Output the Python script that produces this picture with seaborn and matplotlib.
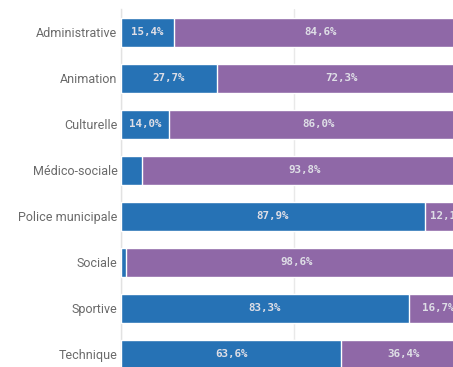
import matplotlib
matplotlib.use("Agg")
import matplotlib.pyplot as plt
import seaborn as sns
import pandas as pd

categories = ["Administrative", "Animation", "Culturelle", "Médico-sociale",
              "Police municipale", "Sociale", "Sportive", "Technique"]
part_a = [15.4, 27.7, 14.0, 6.2, 87.9, 1.4, 83.3, 63.6]
part_b = [84.6, 72.3, 86.0, 93.8, 12.1, 98.6, 16.7, 36.4]

BLUE = "#2672b5"
PURPLE = "#8f68a7"

sns.set_style("white")
plt.rcParams["font.family"] = ["Roboto", "DejaVu Sans"]

df = pd.DataFrame({
    "categorie": categories,
    "a": part_a,
    "b": part_b,
})
df["total"] = df["a"] + df["b"]

fig = plt.figure(figsize=(4.53, 3.67), dpi=100)
ax = fig.add_axes([121 / 453, -10 / 367, 346 / 453, 367.5 / 367])

# stacked bars: full length first, first segment drawn on top
sns.barplot(data=df, x="total", y="categorie", orient="h", color=PURPLE,
            saturation=1, width=0.63, edgecolor="white", linewidth=1.0, ax=ax, zorder=2)
sns.barplot(data=df, x="a", y="categorie", orient="h", color=BLUE,
            saturation=1, width=0.63, edgecolor="white", linewidth=1.0, ax=ax, zorder=3)

label_kw = dict(ha="center", va="center", color="#dedee6", fontsize=7.8,
                fontweight="bold", family=["DejaVu Sans Mono"], zorder=5)
for i, (a, b) in enumerate(zip(part_a, part_b)):
    if a >= 8:
        ax.text(a / 2, i, f"{a:.1f}%".replace(".", ","), **label_kw)
    if b >= 8:
        ax.text(a + b / 2, i, f"{b:.1f}%".replace(".", ","), **label_kw)

ax.set_xlim(0, 100)
ax.set_ylim(7.5, -0.5)
ax.set_xticks([0, 50, 100])
ax.grid(axis="x", color="#e9e9e9", linewidth=1, zorder=0)
ax.set_axisbelow(True)
ax.tick_params(axis="x", bottom=False, labelbottom=False)
ax.tick_params(axis="y", left=False, pad=-1, labelsize=9, labelcolor="#6a6a6a")
ax.set_xlabel("")
ax.set_ylabel("")
for side in ["top", "right", "bottom"]:
    ax.spines[side].set_visible(False)
ax.spines["left"].set_color("#e2e2e2")
ax.spines["left"].set_linewidth(1)

fig.savefig("out.png", dpi=100)
